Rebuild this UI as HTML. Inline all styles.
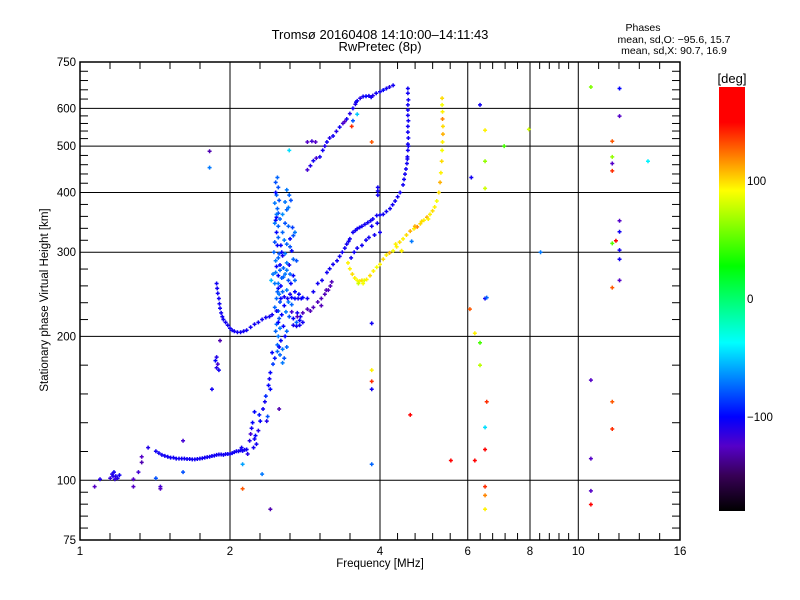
<!DOCTYPE html>
<html><head><meta charset="utf-8">
<style>
html,body{margin:0;padding:0;background:#fff;}
svg{display:block;font-family:"Liberation Sans",sans-serif;}
</style></head>
<body>
<svg id="chart" width="800" height="600" viewBox="0 0 800 600" xmlns="http://www.w3.org/2000/svg">
<rect x="0" y="0" width="800" height="600" fill="#fff"/>
<text x="380" y="39" font-size="13" text-anchor="middle">Tromsø 20160408 14:10:00–14:11:43</text>
<text x="380" y="51" font-size="13" text-anchor="middle">RwPretec (8p)</text>
<g font-size="10.5" text-anchor="middle">
<text x="643" y="31">Phases</text>
<text x="674" y="43">mean, sd,O: −95.6, 15.7</text>
<text x="674" y="54">mean, sd,X:  90.7, 16.9</text>
</g>
<text x="380" y="567" font-size="11.5" text-anchor="middle">Frequency [MHz]</text>
<text transform="translate(48,300) rotate(-90)" font-size="11.5" text-anchor="middle">Stationary phase Virtual Height [km]</text>
<g id="grid"></g>
<g id="marks"></g>
<g id="axes"></g>
<g id="cbar"></g>
</svg>
<script>
// ---- data: [frequency MHz, virtual height km] with phases in deg ----
const lowEchoes = [[1.07,97],[1.097,100.5],[1.15,101],[1.16,103],[1.17,104],[1.18,102],[1.19,101],[1.2,102.5],[1.28,100.5],[1.28,97],[1.31,104],[1.33,109],[1.33,112],[1.37,117],[1.42,101],[1.45,97],[1.45,96],[1.61,121],[1.61,104],[1.165,102],[1.175,100.5]];
const lowPhases = [-125,-110,-115,-110,-105,-110,-110,-105,-125,-125,-120,-130,-125,-110,-80,-120,-125,-120,-80,-110,-115];
const eTrace = [[1.42,115],[1.44,114],[1.46,113],[1.48,112.5],[1.5,112],[1.52,111.5],[1.54,111.5],[1.56,111],[1.58,111],[1.6,111],[1.62,111],[1.64,110.8],[1.66,110.8],[1.68,110.6],[1.7,110.6],[1.72,110.8],[1.74,111],[1.76,111.2],[1.78,111.5],[1.8,111.8],[1.82,112],[1.84,112.4],[1.86,112.6],[1.88,113],[1.9,113.2],[1.92,113.2],[1.94,113],[1.96,113.4],[1.98,113.5],[2.0,113.5],[2.02,114],[2.04,114.5],[2.06,115],[2.08,115],[2.1,115.5],[2.12,115.2],[2.14,115.8],[2.16,116]];
const eFRamp = [[2.11,117],[2.17,113.5],[2.19,121],[2.21,128.5],[2.22,132],[2.24,122],[2.2,125],[2.24,139],[2.3,133],[2.35,146],[2.37,133],[2.38,136],[2.41,155],[2.4,163],[2.41,168],[2.36,150],[2.33,141],[2.28,127],[2.26,119],[2.44,175],[2.46,180],[2.43,185],[2.12,108],[2.32,103],[2.12,96],[2.41,87],[2.51,141],[2.23,117],[2.25,124],[2.29,137],[2.39,158]];
const eFPhases = [-105,-110,-110,-105,-100,-105,-120,-100,-100,-105,-110,-80,-100,-105,-100,-90,-105,-110,-105,-85,-95,-100,-60,-70,130,-130,-130,-105,-100,-95,-100];
const spreadF = [[1.82,488],[1.82,451],[1.84,155],[1.88,181],[1.89,175],[1.9,170],[1.88,172],[1.91,196],[1.87,178]];
const spreadPhases = [-130,-70,-105,-110,-120,-105,-110,-130,-100];
const cuspTrace = [[1.88,258],[1.885,252],[1.89,246],[1.9,240],[1.905,234],[1.91,229],[1.92,224],[1.93,220],[1.94,217],[1.96,214],[1.98,211],[2.0,208],[2.02,206],[2.04,205],[2.07,204],[2.1,204],[2.13,205],[2.16,206],[2.2,209],[2.24,212],[2.28,214],[2.32,217],[2.36,219],[2.4,220],[2.43,222],[2.68,211],[2.72,210],[2.76,211],[2.8,214],[2.77,220],[2.73,224]];
const cloud = [[2.47,420],[2.48,395],[2.46,380],[2.49,370],[2.5,362],[2.47,350],[2.52,352],[2.55,360],[2.6,368],[2.62,372],[2.58,345],[2.62,340],[2.67,338],[2.7,330],[2.68,325],[2.48,330],[2.5,322],[2.46,315],[2.53,310],[2.57,318],[2.6,312],[2.64,308],[2.66,302],[2.58,298],[2.55,295],[2.5,292],[2.47,288],[2.52,282],[2.56,278],[2.6,285],[2.63,282],[2.68,290],[2.72,288],[2.47,272],[2.5,268],[2.54,265],[2.58,270],[2.62,262],[2.65,258],[2.7,262],[2.46,258],[2.5,252],[2.55,248],[2.6,250],[2.64,245],[2.7,248],[2.48,240],[2.52,236],[2.57,232],[2.62,236],[2.66,233],[2.5,226],[2.54,222],[2.59,225],[2.63,220],[2.68,218],[2.72,214],[2.76,216],[2.48,212],[2.52,208],[2.56,210],[2.6,205],[2.5,200],[2.53,196],[2.49,192],[2.55,188],[2.52,183],[2.57,180],[2.55,176],[2.6,190],[2.58,200],[2.66,225],[2.78,240],[2.8,241],[2.74,240],[2.7,240],[2.75,245],[2.45,300],[2.44,270],[2.42,262],[2.5,410],[2.49,430],[2.6,405],[2.63,395],[2.65,385],[2.58,382],[2.48,355],[2.5,340],[2.46,345],[2.64,320],[2.55,330],[2.53,240],[2.57,242],[2.61,240],[2.66,241],[2.48,226],[2.47,205],[2.51,245],[2.54,300],[2.46,230],[2.49,310],[2.51,298],[2.48,280],[2.52,275],[2.5,258],[2.53,255],[2.49,248],[2.51,218],[2.5,214],[2.49,186],[2.51,190],[2.48,360],[2.51,385],[2.47,400],[2.56,266],[2.6,275],[2.64,270],[2.68,268]];
const cloudPhases = [-80,-75,-70,-75,-80,-100,-75,-65,-75,-70,-80,-75,-85,-70,-80,-100,-75,-80,-100,-70,-75,-80,-100,-70,-105,-75,-70,-100,-75,-70,-105,-75,-80,-70,-100,-75,-70,-80,-100,-75,-70,-100,-75,-70,-105,-100,-75,-80,-100,-70,-75,-75,-100,-70,-80,-100,-75,-100,-75,-70,-100,-75,-70,-100,-75,-70,-75,-80,-70,-75,-100,-120,-100,-100,-105,-100,-100,-75,-70,-55,-80,-75,-70,-75,-80,-70,-100,-75,-70,-100,-75,-100,-105,-105,-100,-105,-75,-70,-100,-75,-100,-80,-100,-75,-70,-100,-75,-80,-100,-75,-100,-70,-80,-100,-75,-70,-75,-100];
const midTrace = [[2.86,240],[2.94,248],[3.0,258],[3.06,262],[3.13,272],[3.17,277],[3.22,283],[3.28,288],[3.32,294],[3.36,300],[3.4,306],[3.43,312],[3.46,316],[3.48,320],[3.53,330],[3.57,333],[3.6,336],[3.64,338],[3.68,340],[3.73,343],[3.78,346],[3.83,349],[3.87,352],[3.94,358],[4.0,359],[4.06,360],[4.12,365],[4.19,370],[4.24,377],[4.29,384],[4.34,392],[4.39,400],[4.45,415],[4.47,426],[4.49,437],[4.51,448],[4.53,460],[4.54,475],[4.55,490],[4.55,505],[4.56,520],[4.55,535],[4.55,550],[4.56,565],[4.55,580],[4.55,595],[4.55,610],[4.56,625],[4.55,645],[4.55,660],[4.54,470],[4.56,500],[3.5,292],[3.55,300],[3.6,306],[3.68,310],[3.75,318],[3.8,322],[3.9,326],[4.0,330],[3.95,345],[3.85,340],[3.96,395],[3.96,403],[3.96,410]];
const purpleBranch = [[2.73,220],[2.8,224],[2.86,228],[2.94,230],[3.0,236],[3.05,240],[3.1,245],[3.15,250],[3.18,255],[3.05,232],[2.9,226],[3.2,260],[3.12,250]];
const upperTrace = [[2.86,446],[2.9,455],[2.94,466],[2.98,472],[3.03,475],[3.07,490],[3.1,500],[2.86,510],[2.92,512],[2.97,510],[3.13,510],[3.17,520],[3.22,525],[3.27,537],[3.32,548],[3.37,558],[3.43,570],[3.48,585],[3.53,600],[3.57,612],[3.6,622],[3.65,630],[3.7,635],[3.75,636],[3.8,637],[3.87,638],[3.93,645],[4.0,650],[4.06,655],[4.12,660],[4.18,665],[4.25,670],[3.4,563],[3.58,618],[3.84,633]];
const upperPhases = [-120,-110,-105,-120,-105,-105,-110,-125,-120,-125,-105,-110,-105,-110,-105,-120,-105,-110,-105,-110,-105,-110,-105,-100,-105,-110,-105,-105,-100,-105,-110,-105,-125,-105,-105];
const yellowTrace = [[3.48,277],[3.52,270],[3.56,265],[3.6,262],[3.64,261],[3.68,262],[3.72,262],[3.76,263],[3.82,268],[3.88,274],[3.94,279],[4.0,283],[4.06,290],[4.12,296],[4.18,299],[4.25,302],[4.32,308],[4.38,315],[4.45,320],[4.52,326],[4.6,332],[4.68,336],[4.75,339],[4.82,344],[4.9,350],[4.97,355],[5.04,360],[5.1,366],[5.15,373],[5.2,384],[5.25,400],[5.28,420],[5.3,440],[5.32,465],[5.33,490],[5.34,510],[5.35,530],[5.35,550],[5.34,570],[5.34,590],[5.33,610],[5.33,630],[3.45,285],[3.62,258],[3.7,258],[4.42,302],[4.3,312],[4.7,340],[4.85,348],[5.0,352]];
const yellowPhases = [95,100,95,90,95,100,85,95,100,95,90,95,100,95,110,90,95,100,95,100,110,95,120,100,95,110,95,100,95,90,100,110,95,100,90,95,110,100,120,95,90,100,95,80,90,100,95,110,100,95];
const strayEchoes = [[2.63,490],[3.85,510],[3.85,170],[3.85,161],[3.85,155],[3.85,213],[3.85,108],[4.6,137],[5.55,110],[4.63,316],[4.42,302],[3.51,550],[3.6,583],[3.53,565],[10.6,665],[12.1,660],[6.35,610],[6.5,540],[7.96,542],[7.1,500],[6.5,465],[6.1,430],[6.5,408],[12.1,578],[11.7,512],[11.7,475],[11.7,460],[11.7,444],[13.8,465],[12.1,349],[12.1,331],[11.9,317],[11.7,313],[12.1,303],[12.1,290],[8.4,300],[12.1,262],[11.7,253],[6.5,240],[6.55,241],[6.06,228],[6.2,203],[6.35,194],[6.35,174],[10.6,162],[6.55,146],[11.7,146],[6.5,129],[11.7,128],[6.5,116],[6.2,110],[10.6,111],[6.5,97],[6.5,93],[10.6,95],[10.6,89],[6.5,87]];
const strayPhases = [-45,130,95,140,-105,-105,-75,170,150,-70,95,140,-50,-80,60,-100,-105,95,80,45,65,-105,80,-125,130,65,-125,140,-40,-125,-105,175,50,-105,-105,-70,-125,130,-105,-75,130,95,45,75,-125,140,130,-45,140,160,170,-125,140,120,-125,170,95];

const xTickVals = [1,2,4,6,8,10,16];
const yTickVals = [75,100,200,300,400,500,600,750];
const cbarTickVals = [100,0,-100];

// ---- scales ----
const X0=80, X1=680, Y0=62, Y1=540;
const xs = f => X0 + Math.log2(f) / 4 * (X1 - X0);
const ys = h => Y1 - Math.log10(h/75) * (Y1 - Y0);
const NS='http://www.w3.org/2000/svg';
function mk(tag, attrs, parent){const e=document.createElementNS(NS,tag);for(const k in attrs)e.setAttribute(k,attrs[k]);parent.appendChild(e);return e;}

const stops=[[-180,0,0,0],[-150,55,0,85],[-125,85,0,200],[-100,0,0,255],[-37,0,255,255],[28,0,255,0],[92,255,255,0],[150,255,0,0],[180,255,0,0]];
function pcol(v){v=Math.max(-180,Math.min(180,v));for(let i=0;i<stops.length-1;i++){const a=stops[i],b=stops[i+1];if(v<=b[0]){const t=(v-a[0])/(b[0]-a[0]);const c=[1,2,3].map(j=>Math.round(a[j]+(b[j]-a[j])*t));return `rgb(${c[0]},${c[1]},${c[2]})`;}}return 'rgb(255,0,0)';}

const grid=document.getElementById('grid');
const axes=document.getElementById('axes');
const marks=document.getElementById('marks');

[2,4,6,8,10].forEach(f=>{
  const l=mk('line',{x1:xs(f),x2:xs(f),y1:Y0,y2:Y1,stroke:'#000','stroke-width':1},grid);
  
  
});
[100,200,300,400,500,600].forEach(h=>{
  const l=mk('line',{x1:X0,x2:X1,y1:ys(h),y2:ys(h),stroke:'#000','stroke-width':1},grid);
  
  
});

function plot(arr, phases, fixedPhase, name){
  arr.forEach((p,i)=>{
    const ph = phases ? phases[i] : fixedPhase;
    const x=xs(p[0]), y=ys(p[1]), c=pcol(ph);
    const g=mk('path',{d:`M${x-2},${y}h4M${x},${y-2}v4`,stroke:c,'stroke-width':1.5,fill:'none'},marks);
    
    
  });
}
plot(lowEchoes, lowPhases, 0, 'echo-point');
plot(eTrace, null, -105, 'e-layer-point');
plot(eFRamp, eFPhases, 0, 'echo-point');
plot(spreadF, spreadPhases, 0, 'echo-point');
plot(cuspTrace, null, -105, 'f-trace-point');
plot(cloud, cloudPhases, 0, 'spread-f-point');
plot(midTrace, null, -105, 'f-trace-point');
plot(purpleBranch, null, -128, 'f-trace-point');
plot(upperTrace, upperPhases, 0, 'f2-trace-point');
plot(yellowTrace, yellowPhases, 0, 'x-trace-point');
plot(strayEchoes, strayPhases, 0, 'stray-echo-point');

const fr=mk('rect',{x:X0,y:Y0,width:X1-X0,height:Y1-Y0,fill:'none',stroke:'#000','stroke-width':1.5},axes);



const xMaj=[1,2,4,6,8,10,16];
for(let i=0;i<xMaj.length-1;i++){
  const a=xs(xMaj[i]), b=xs(xMaj[i+1]);
  for(let k=1;k<5;k++){const x=a+(b-a)*k/5;
    mk('line',{x1:x,x2:x,y1:Y0,y2:Y0+7,stroke:'#000'},axes);
    mk('line',{x1:x,x2:x,y1:Y1,y2:Y1-7,stroke:'#000'},axes);}
}
xTickVals.forEach(f=>{
  const t=mk('text',{x:xs(f),y:555,'font-size':11.5,'text-anchor':'middle'},axes);
  t.textContent=String(f);
  
  
});
const yMaj=[75,100,200,300,400,500,600,750];
for(let i=0;i<yMaj.length-1;i++){
  const a=ys(yMaj[i]), b=ys(yMaj[i+1]);
  for(let k=1;k<5;k++){const y=a+(b-a)*k/5;
    mk('line',{x1:X0,x2:X0+8,y1:y,y2:y,stroke:'#000'},axes);
    mk('line',{x1:X1,x2:X1-8,y1:y,y2:y,stroke:'#000'},axes);}
}
yTickVals.forEach(h=>{
  const t=mk('text',{x:76,y:ys(h)+4,'font-size':11.5,'text-anchor':'end'},axes);
  t.textContent=String(h);
  
  
});

const cb=document.getElementById('cbar');
const CBX=719, CBW=26, CBT=87, CBB=511;
const cbs = v => CBB - (v+180)/360*(CBB-CBT);
const defs=mk('defs',{},cb);
const lg=mk('linearGradient',{id:'cg',x1:0,y1:1,x2:0,y2:0},defs);
stops.forEach(s=>mk('stop',{offset:((s[0]+180)/360).toFixed(3),'stop-color':pcol(s[0])},lg));
const cbr=mk('rect',{x:CBX,y:CBT,width:CBW,height:CBB-CBT,fill:'url(#cg)'},cb);


const cbl=mk('text',{x:CBX+CBW/2,y:83,'font-size':13,'text-anchor':'middle'},cb);
cbl.textContent='[deg]';


cbarTickVals.forEach(v=>{
  const t=mk('text',{x:CBX+CBW+2,y:cbs(v)+4,'font-size':11.5},cb);
  t.textContent = v<0 ? '−'+Math.abs(v) : String(v);
  
  
});
</script>
</body></html>
